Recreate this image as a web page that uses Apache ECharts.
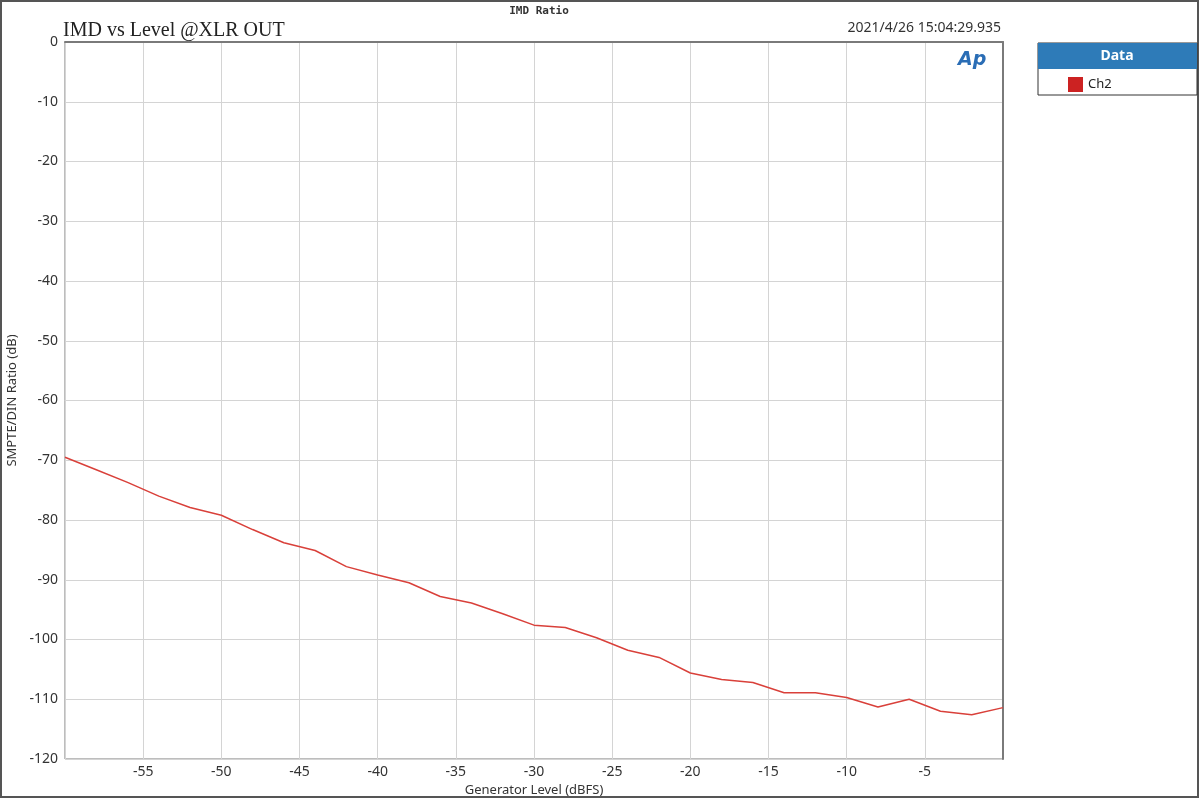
<!DOCTYPE html>
<html><head><meta charset="utf-8">
<script src="https://cdn.jsdelivr.net/npm/echarts@6/dist/echarts.min.js"></script>
<style>html,body{margin:0;padding:0;background:#fff}#c{width:1200px;height:799px}</style>
</head><body><div id="c"></div>
<script>
const levels = [-60,-58,-56,-54,-52,-50,-48,-46,-44,-42,-40,-38,-36,-34,-32,-30,-28,-26,-24,-22,-20,-18,-16,-14,-12,-10,-8,-6,-4,-2,0];
const ch2 = [-69.5,-71.6,-73.7,-76.0,-77.9,-79.2,-81.6,-83.8,-85.1,-87.8,-89.2,-90.5,-92.8,-93.9,-95.7,-97.6,-98.0,-99.7,-101.8,-103.0,-105.6,-106.7,-107.2,-108.9,-108.9,-109.7,-111.3,-110.0,-112.0,-112.6,-111.4];
const xHidden = [-60, 0];

const chart = echarts.init(document.getElementById('c'));
chart.setOption({
  animation: false,
  backgroundColor: '#fff',
  title: {
    text: 'IMD Ratio', left: 534, top: 1, textAlign: 'center',
    textStyle: {fontFamily: 'DejaVu Sans Mono', fontSize: 11, fontWeight: 'bold', color: '#333'}
  },
  grid: {left: 65, right: 197, top: 42, bottom: 40, show: true, borderColor: '#7a7a7a', borderWidth: 1,
    outerBoundsMode: 'none', containLabel: false},
  legend: {
    data: ['Ch2'], left: 1063, top: 72, orient: 'vertical',
    icon: 'rect', itemWidth: 15, itemHeight: 15, itemGap: 4,
    textStyle: {fontFamily: 'Noto Sans', fontSize: 13, color: '#222'}
  },
  xAxis: {
    type: 'value', min: -60, max: 0, interval: 5,
    name: 'Generator Level (dBFS)', nameLocation: 'middle', nameGap: 22,
    nameTextStyle: {fontFamily: 'Noto Sans', fontSize: 13, color: '#333'},
    axisLine: {lineStyle: {color: '#7a7a7a', width: 2}},
    axisTick: {show: false},
    axisLabel: {fontFamily: 'Noto Sans', fontSize: 14, color: '#333', margin: 6,
      formatter: v => xHidden.includes(v) ? '' : String(v)},
    splitLine: {show: true, lineStyle: {color: '#d4d4d4', width: 1}}
  },
  yAxis: {
    type: 'value', min: -120, max: 0, interval: 10,
    name: 'SMPTE/DIN Ratio (dB)', nameLocation: 'middle', nameGap: 46, nameRotate: 90,
    nameTextStyle: {fontFamily: 'Noto Sans', fontSize: 13, color: '#333'},
    axisLine: {lineStyle: {color: '#7a7a7a', width: 2}},
    axisTick: {show: false},
    axisLabel: {fontFamily: 'Noto Sans', fontSize: 14, color: '#333', margin: 7},
    splitLine: {show: true, lineStyle: {color: '#d4d4d4', width: 1}}
  },
  series: [{
    name: 'Ch2', type: 'line', data: levels.map((x, i) => [x, ch2[i]]),
    showSymbol: false, symbol: 'none', lineStyle: {color: '#d9403a', width: 1.5},
    itemStyle: {color: '#cc2222'}
  }],
  graphic: [
    {type: 'rect', shape: {x: 1, y: 1, width: 1197, height: 796}, style: {fill: 'none', stroke: '#555', lineWidth: 2}, z: -1},
    {type: 'text', left: 63, top: 21, style: {text: 'IMD vs Level @XLR OUT', font: '20px "Liberation Serif"', fill: '#222'}},
    {type: 'text', right: 199, top: 21, style: {text: '2021/4/26 15:04:29.935', font: '14px "Noto Sans"', fill: '#333'}},
    {type: 'text', left: 958, top: 51, style: {text: 'Ap', font: 'italic bold 19px "DejaVu Sans"', fill: '#2a6db5'}},
    {type: 'rect', shape: {x: 1038, y: 43, width: 159, height: 52}, style: {fill: '#fff', stroke: '#333', lineWidth: 1}},
    {type: 'rect', shape: {x: 1038, y: 43, width: 159, height: 26}, style: {fill: '#2e7bb8'}},
    {type: 'text', x: 1117, y: 56, style: {text: 'Data', font: 'bold 14px "Noto Sans"', fill: '#fff', align: 'center', verticalAlign: 'middle'}}
  ]
});
</script></body></html>
